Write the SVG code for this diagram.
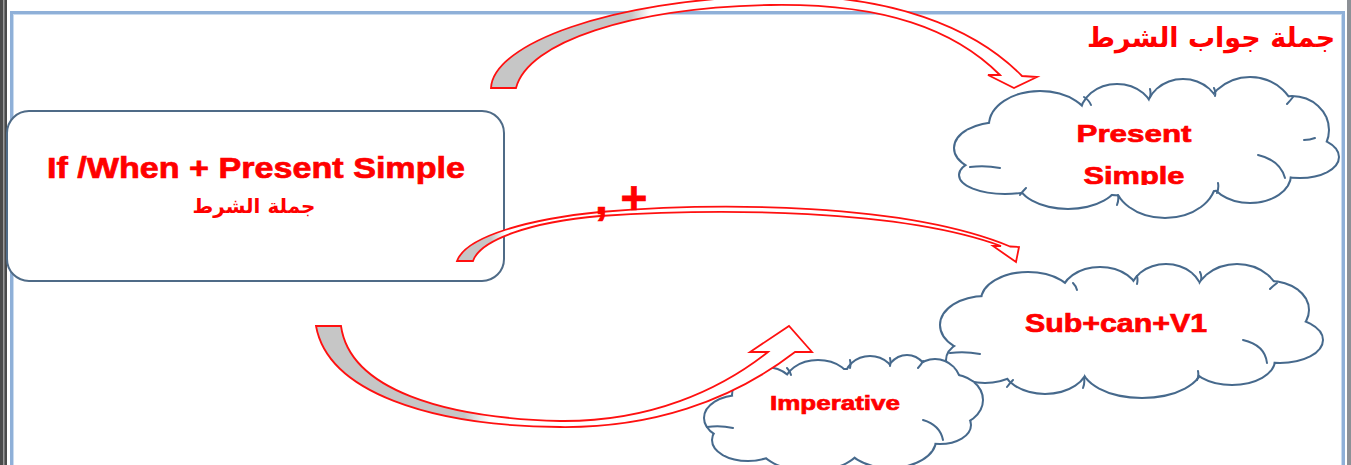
<svg xmlns="http://www.w3.org/2000/svg" width="1351" height="465" viewBox="0 0 1351 465">
<style>
.en{font-family:"Liberation Sans",Arial,sans-serif;font-weight:bold;fill:#ff0000;stroke:#ff0000;stroke-width:0.7;text-anchor:middle}
.ar{font-family:"DejaVu Sans","Noto Sans",sans-serif;font-weight:bold;fill:#ff0000;text-anchor:middle}
.cb{fill:#ffffff;stroke:#46698c;stroke-width:4}
.cf{fill:#ffffff;stroke:none}
.hook{fill:none;stroke:#46698c;stroke-width:2;stroke-linecap:round}
.arrow{stroke:#ff1010;stroke-width:1.8;stroke-linejoin:miter}
</style>
<defs>
<linearGradient id="g1" gradientUnits="userSpaceOnUse" x1="491" y1="0" x2="650" y2="0">
<stop offset="0" stop-color="#c6c6c6"/><stop offset="0.88" stop-color="#c6c6c6"/><stop offset="1" stop-color="#ffffff"/>
</linearGradient>
<linearGradient id="g2" gradientUnits="userSpaceOnUse" x1="457" y1="0" x2="505" y2="0">
<stop offset="0" stop-color="#c6c6c6"/><stop offset="0.7" stop-color="#c6c6c6"/><stop offset="1" stop-color="#ffffff"/>
</linearGradient>
<linearGradient id="g3" gradientUnits="userSpaceOnUse" x1="316" y1="0" x2="490" y2="0">
<stop offset="0" stop-color="#c6c6c6"/><stop offset="0.85" stop-color="#c6c6c6"/><stop offset="1" stop-color="#ffffff"/>
</linearGradient>
<clipPath id="clipSimple"><rect x="1000" y="150" width="250" height="35"/></clipPath>
<g id="c1s">
<ellipse cx="1040" cy="125" rx="50" ry="33"/>
<ellipse cx="1117" cy="115" rx="36" ry="30"/>
<ellipse cx="1183" cy="112" rx="36" ry="32"/>
<ellipse cx="1250" cy="120" rx="45" ry="42"/>
<ellipse cx="1292" cy="130" rx="36" ry="33"/>
<ellipse cx="1300" cy="157" rx="38" ry="20"/>
<ellipse cx="1250" cy="175" rx="40" ry="27"/>
<ellipse cx="1165" cy="180" rx="50" ry="37"/>
<ellipse cx="1068" cy="180" rx="50" ry="28"/>
<ellipse cx="1005" cy="175" rx="45" ry="18"/>
<ellipse cx="1000" cy="148" rx="45" ry="25"/>
<ellipse cx="1145" cy="150" rx="150" ry="45"/>
</g>
<g id="c2s">
<ellipse cx="1028" cy="300" rx="46" ry="27"/>
<ellipse cx="1100" cy="295" rx="38" ry="27"/>
<ellipse cx="1166" cy="293" rx="35" ry="28"/>
<ellipse cx="1237" cy="300" rx="42" ry="35"/>
<ellipse cx="1270" cy="310" rx="38" ry="28"/>
<ellipse cx="1280" cy="340" rx="42" ry="22"/>
<ellipse cx="1232" cy="360" rx="42" ry="24"/>
<ellipse cx="1142" cy="365" rx="60" ry="32"/>
<ellipse cx="1045" cy="365" rx="42" ry="28"/>
<ellipse cx="985" cy="360" rx="38" ry="22"/>
<ellipse cx="985" cy="325" rx="44" ry="28"/>
<ellipse cx="1130" cy="330" rx="150" ry="45"/>
</g>
<g id="c3s">
<ellipse cx="765" cy="395" rx="32" ry="27"/>
<ellipse cx="818" cy="385" rx="33" ry="24"/>
<ellipse cx="870" cy="380" rx="25" ry="23"/>
<ellipse cx="907" cy="382" rx="22" ry="26"/>
<ellipse cx="935" cy="385" rx="25" ry="25"/>
<ellipse cx="950" cy="400" rx="32" ry="25"/>
<ellipse cx="940" cy="425" rx="30" ry="18"/>
<ellipse cx="890" cy="440" rx="45" ry="27"/>
<ellipse cx="810" cy="445" rx="50" ry="25"/>
<ellipse cx="740" cy="418" rx="35" ry="22"/>
<ellipse cx="748" cy="440" rx="35" ry="20"/>
<ellipse cx="845" cy="410" rx="110" ry="40"/>
</g>
</defs>

<g id="frame">
<rect x="0" y="0" width="7" height="465" fill="#4a4a4a"/>
<rect x="3" y="0" width="1.5" height="465" fill="#9a9a9a"/>
<rect x="1347" y="0" width="4" height="465" fill="#8c9096"/>
<rect x="11.5" y="12.5" width="1332" height="455" fill="none" stroke="#8fb0d8" stroke-width="3"/>
<rect x="13.5" y="14.5" width="1328" height="455" fill="none" stroke="#c9dbef" stroke-width="1"/>
</g>

<g id="node-condition">
<rect x="7" y="111" width="497" height="170" rx="22" ry="22" fill="#ffffff" stroke="#4f6b87" stroke-width="2"/>
<text class="en" x="256" y="178" font-size="30" textLength="418" lengthAdjust="spacingAndGlyphs">If /When + Present Simple</text>
<text class="ar" x="254" y="213" font-size="20">جملة الشرط</text>
</g>

<g id="title-result">
<text class="ar" x="1211" y="47" font-size="27">جملة جواب الشرط</text>
</g>

<g id="node-present-simple">
<use href="#c1s" class="cb"/>
<use href="#c1s" class="cf"/>
<path class="hook" d="M 970,167 Q 985,165 1000,168 M 1258,155 Q 1280,160 1285,178 M 1084,97 Q 1089,100 1091,105 M 1150,89 Q 1151,93 1150,97 M 1214,88 Q 1216,92 1215,96 M 1293,97 Q 1290,101 1287,104 M 1315,138 Q 1310,140 1304,140 M 1217,193 Q 1219,188 1218,183 M 1117,205 Q 1119,200 1118,195 M 1020,195 Q 1023,191 1026,188"/>
<text class="en" x="1134" y="142" font-size="24" textLength="115" lengthAdjust="spacingAndGlyphs">Present</text>
<text class="en" x="1134" y="184" font-size="24" textLength="101" lengthAdjust="spacingAndGlyphs" clip-path="url(#clipSimple)">Simple</text>
</g>

<g id="node-sub-can-v1">
<use href="#c2s" class="cb"/>
<use href="#c2s" class="cf"/>
<path class="hook" d="M 950,353 Q 965,351 980,354 M 1243,340 Q 1265,345 1267,363 M 1073,283 Q 1076,286 1077,290 M 1137,276 Q 1138,280 1137,284 M 1200,272 Q 1202,276 1201,280 M 1277,283 Q 1273,286 1270,289 M 1197,380 Q 1199,376 1198,371 M 1083,388 Q 1085,383 1084,378 M 1007,387 Q 1010,383 1013,380"/>
<text class="en" x="1116" y="332" font-size="25" textLength="182" lengthAdjust="spacingAndGlyphs">Sub+can+V1</text>
</g>

<g id="node-imperative">
<use href="#c3s" class="cb"/>
<use href="#c3s" class="cf"/>
<path class="hook" d="M 707,427 Q 720,425 733,428 M 923,420 Q 940,425 943,440 M 787,368 Q 790,371 791,375 M 850,360 Q 851,364 850,368 M 890,358 Q 891,362 890,366 M 923,361 Q 921,365 918,368"/>
<text class="en" x="835" y="410" font-size="21" textLength="130" lengthAdjust="spacingAndGlyphs">Imperative</text>
</g>

<g id="connectors">
<path class="arrow" fill="url(#g1)" d="M 491,88 C 493,44 610,0 770,-4 C 890,-7 975,28 1022,76 L 1037,77 L 1014,88 L 988,75 L 1000,75 C 955,30 885,3 770,5 C 630,8 528,42 516,88 Z"/>
<path class="arrow" fill="url(#g2)" d="M 457,261 C 466,236 530,219 600,212 C 720,202 905,203 1010,246.5 L 1019,247 L 1016,262 L 993,246 L 1001,246 C 900,209 720,208 600,216 C 530,222 480,240 473,261 Z"/>
<path class="arrow" fill="url(#g3)" d="M 316,326 L 341,326 C 350,390 445,418 560,421 C 650,422 720,390 768,352 L 750,352 L 789,326 L 812,352 L 795,352 C 730,402 650,428 560,427 C 430,426 328,392 316,326 Z"/>
<text class="en" x="595" y="214" font-size="46" text-anchor="start" style="text-anchor:start">, +</text>
</g>
</svg>
